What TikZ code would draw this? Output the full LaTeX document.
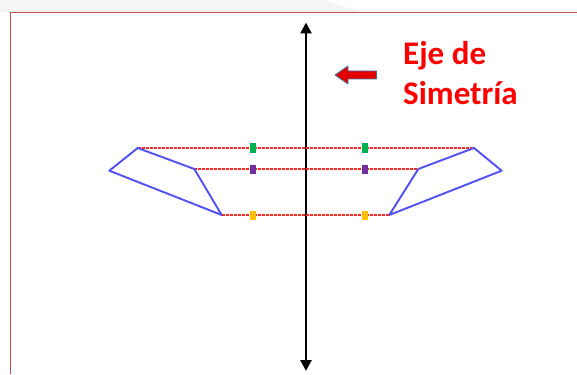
\documentclass[tikz,border=0pt]{standalone}
\usepackage{fontspec}
\setmainfont{Carlito}
\usetikzlibrary{arrows.meta}
\definecolor{frame}{HTML}{C0504D}
\definecolor{poly}{HTML}{5050F5}
\definecolor{mgreen}{HTML}{00B050}
\definecolor{mpurple}{HTML}{7030A0}
\definecolor{morange}{HTML}{FFC000}
\definecolor{arrowedge}{HTML}{41719C}
\tikzset{
  figshape/.style={draw=poly, line width=1.9pt, line join=round},
  hline/.style={draw=red!85!white, line width=1.1pt, dash pattern=on 3pt off 1pt},
  marker/.style={minimum width=6pt, minimum height=9pt, inner sep=0pt, draw=none},
  axislabel/.style={text=red, font=\bfseries\fontsize{33}{40}\selectfont, anchor=base west, inner sep=0pt}
}
\begin{document}
\begin{tikzpicture}[x=1pt,y=-1pt]
\useasboundingbox (0,0) rectangle (577,374);
\fill[white] (0,0) rectangle (577,374);
\fill[black!4] (0,0) -- (325,0) -- (360,12) -- (0,12) -- cycle;
\draw[frame, line width=1pt] (577,12.5) -- (10.5,12.5) -- (10.5,374);
% axis
\coordinate (axtop) at (306,22.5);
\coordinate (axbot) at (306,371);
\draw[line width=2.6pt, {Triangle[length=11pt,width=11pt]}-{Triangle[length=11pt,width=11pt]}] (axtop) -- (axbot);
% shapes
\coordinate (L1) at (137.7,148);
\coordinate (L2) at (109.3,170.7);
\coordinate (L3) at (221.7,215);
\coordinate (L4) at (194.3,169);
\coordinate (R1) at (474,148);
\coordinate (R2) at (501.7,170.7);
\coordinate (R3) at (389.3,215);
\coordinate (R4) at (418.3,169);
\draw[hline] (L1) -- (R1);
\draw[hline] (L4) -- (R4);
\draw[hline] (L3) -- (R3);
\draw[figshape] (L1) -- (L2) -- (L3) -- (L4) -- cycle;
\draw[figshape] (R1) -- (R2) -- (R3) -- (R4) -- cycle;
% markers
\node[marker, fill=mgreen] (g1) at (252.5,148) {};
\node[marker, fill=mgreen] (g2) at (365,148) {};
\node[marker, fill=mpurple] (p1) at (252.5,169) {};
\node[marker, fill=mpurple] (p2) at (365,169) {};
\node[marker, fill=morange] (o1) at (252.5,215) {};
\node[marker, fill=morange] (o2) at (365,215) {};
% red block arrow
\fill[red!90!black, draw=arrowedge, line width=0.8pt, line join=round]
  (335,75) -- (348,66) -- (348,71) -- (376.5,71) -- (376.5,79) -- (348,79) -- (348,84) -- cycle;
% label
\node[axislabel] (lbl1) at (403,65) {Eje de};
\node[axislabel] (lbl2) at (403,104.5) {Simetría};
\end{tikzpicture}
\end{document}
